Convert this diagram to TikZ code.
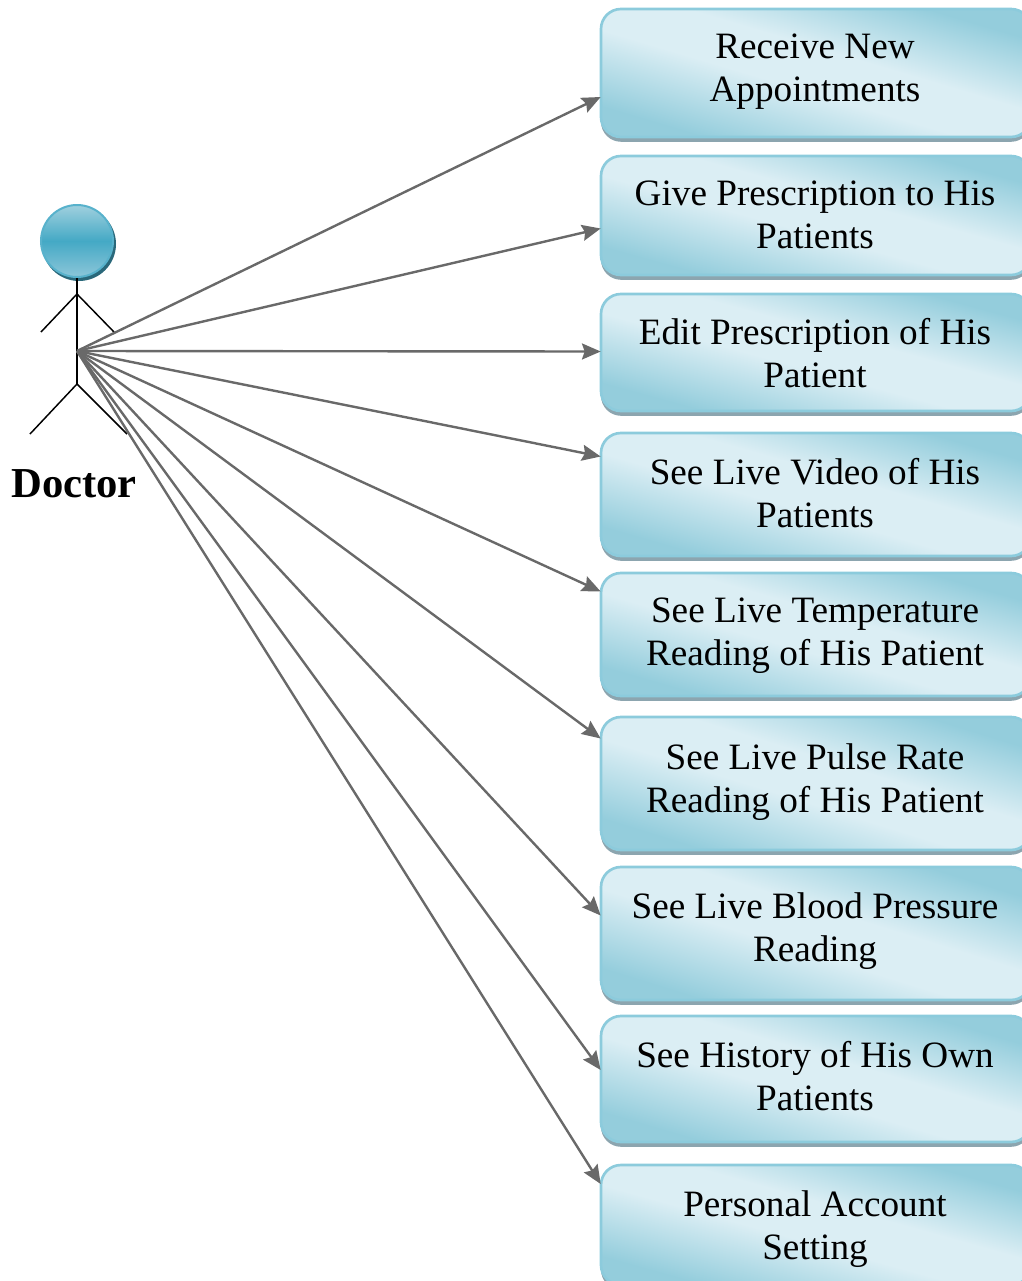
\documentclass[tikz,border=0pt]{standalone}
\usepackage{fontspec}
\setmainfont{Liberation Serif}
\usetikzlibrary{arrows.meta,calc,shadows}
\definecolor{caseEdge}{RGB}{140,203,220}
\definecolor{caseShadow}{RGB}{140,165,175}
\definecolor{headTop}{RGB}{160,208,222}
\definecolor{headMid}{RGB}{68,169,197}
\definecolor{headBot}{RGB}{140,198,217}
\definecolor{headEdge}{RGB}{88,178,204}
\definecolor{headShadow}{RGB}{42,104,122}
\definecolor{wire}{RGB}{105,105,105}
% light band along the box diagonal, darker towards two corners
\pgfdeclarefunctionalshading{caseShade}{\pgfpoint{0bp}{0bp}}{\pgfpoint{100bp}{100bp}}{}{
  add 50 sub 100 div
  dup 0.12 sub 0.30 div exch 0.88 exch sub 0.28 div
  2 copy gt {exch} if pop
  dup 0 lt {pop 0} if dup 1 gt {pop 1} if
  dup 0.279 mul 0.58 add exch dup 0.129 mul 0.804 add exch 0.094 mul 0.863 add
}
\tikzset{
  >={Stealth[length=14pt,width=12pt,inset=2pt]},
  caseBox/.style={draw=caseEdge,line width=2pt,rounded corners=15pt,shading=caseShade,
    minimum width=322.5pt,
    drop shadow={shadow xshift=0pt,shadow yshift=-3.6pt,fill=caseShadow,opacity=1}},
  caseText/.style={font=\fontsize{27.9}{32.2}\selectfont,align=center,inner sep=0pt,
    execute at begin node=\strut,execute at end node=\strut},
  wireTo/.style={->,draw=wire,fill=wire,line width=1.8pt},
  limb/.style={draw=black,line width=1.1pt},
}
\begin{document}
\begin{tikzpicture}[x=0.75pt,y=-0.75pt]
  \useasboundingbox (0,0) rectangle (1021,1281);
  % actor
  \fill[headShadow] (79,244) circle (37);
  \node[circle,draw=headEdge,line width=1.5pt,minimum size=54pt,inner sep=0pt,
    top color=headTop,bottom color=headBot,middle color=headMid] (head) at (77,241) {};
  \coordinate (neck) at (77,294);
  \coordinate (hub) at (77,351);
  \coordinate (hip) at (77,384);
  \draw[limb] (head.south) -- (hip);
  \draw[limb] (41,332) -- (neck) -- (114,332);
  \draw[limb] (30,434) -- (hip) -- (127,434);
  \node[font=\fontsize{32}{38}\selectfont\bfseries,inner sep=0pt] (doctor) at (74,484) {Doctor};
  % use cases: number/top/bottom/text centre/arrow offset/text
  \foreach \i/\top/\bot/\mid/\dy/\txt in {
    1/9/137/68/24/{Receive New\\Appointments},
    2/156/275/215/13/{Give Prescription to His\\Patients},
    3/294/411/353/-1/{Edit Prescription of His\\Patient},
    4/433/556/493/-38/{See Live Video of His\\Patients},
    5/573/696/632/-43/{See Live Temperature\\Reading of His Patient},
    6/717/850/778/-45/{See Live Pulse Rate\\Reading of His Patient},
    7/867/1000/927/-18/{See Live Blood Pressure\\Reading},
    8/1016/1142/1076/-9/{See History of His Own\\Patients},
    9/1165/1285/1225/-41/{Personal Account\\Setting}}{
    \pgfmathsetmacro{\hgt}{(\bot-\top)*0.75}
    \node[caseBox,minimum height=\hgt pt] (c\i) at (816,{(\top+\bot)/2}) {};
    \node[caseText] (t\i) at (815,\mid+6.5) {\txt};
    \draw[wireTo] (hub) -- ($(c\i.west)+(1,\dy)$);
  }
\end{tikzpicture}
\end{document}
